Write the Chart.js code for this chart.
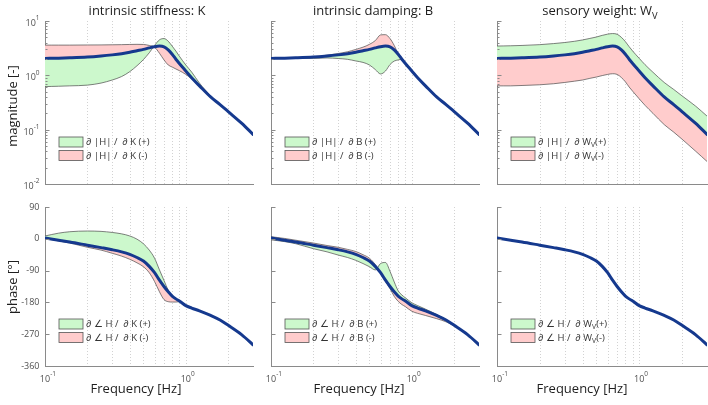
<!DOCTYPE html>
<html><head><meta charset="utf-8">
<script src="https://cdn.jsdelivr.net/npm/chart.js@4.4.0/dist/chart.umd.min.js"></script>
<style>
html,body{margin:0;padding:0;background:#fff;}
#wrap{position:relative;width:708px;height:405px;overflow:hidden;}
canvas{position:absolute;left:0;top:0;}
</style></head><body>
<div id="wrap">
<canvas id="c0" width="708" height="405"></canvas>
<canvas id="c1" width="708" height="405"></canvas>
<canvas id="c2" width="708" height="405"></canvas>
<canvas id="c3" width="708" height="405"></canvas>
<canvas id="c4" width="708" height="405"></canvas>
<canvas id="c5" width="708" height="405"></canvas>
</div>
<script>
// ---------------- data ----------------
const FREQ = [0.1, 0.125, 0.15, 0.2, 0.25, 0.3, 0.35, 0.4, 0.45, 0.5, 0.55, 0.6, 0.65, 0.7, 0.75, 0.8, 0.85, 0.9, 1.0, 1.1, 1.25, 1.5, 1.75, 2.0, 2.5, 3.0];

const MAG_NOMINAL = [2.05, 2.07, 2.1, 2.17, 2.27, 2.38, 2.5, 2.65, 2.83, 3.0, 3.2, 3.37, 3.45, 3.35, 2.95, 2.45, 1.98, 1.65, 1.2, 0.9, 0.64, 0.4, 0.29, 0.215, 0.13, 0.082];
const MAG_K_PLUS  = [0.62, 0.63, 0.64, 0.66, 0.72, 0.82, 0.95, 1.17, 1.5, 1.95, 2.6, 3.55, 4.5, 4.75, 4.25, 3.45, 2.8, 2.25, 1.55, 1.15, 0.72, 0.42, 0.29, 0.215, 0.13, 0.082];
const MAG_K_MINUS = [3.6, 3.6, 3.6, 3.62, 3.63, 3.65, 3.67, 3.7, 3.72, 3.7, 3.55, 3.3, 2.55, 1.92, 1.55, 1.42, 1.31, 1.22, 1.04, 0.86, 0.62, 0.4, 0.29, 0.215, 0.13, 0.082];
const MAG_B_PLUS  = [2.04, 2.05, 2.06, 2.05, 2.09, 2.04, 1.97, 1.84, 1.73, 1.55, 1.28, 1.06, 1.2, 1.58, 1.83, 1.92, 1.98, 1.65, 1.2, 0.9, 0.64, 0.4, 0.29, 0.215, 0.13, 0.082];
const MAG_B_MINUS = [2.05, 2.07, 2.11, 2.2, 2.35, 2.52, 2.72, 3.0, 3.3, 3.72, 4.35, 5.55, 5.6, 4.75, 3.55, 2.5, 1.98, 1.65, 1.2, 0.9, 0.64, 0.4, 0.29, 0.215, 0.13, 0.082];
const MAG_W_PLUS  = [3.46, 3.5, 3.55, 3.67, 3.84, 4.02, 4.23, 4.48, 4.78, 5.07, 5.44, 5.73, 5.87, 5.7, 5.0, 4.17, 3.37, 2.8, 2.06, 1.57, 1.14, 0.74, 0.55, 0.42, 0.27, 0.178];
const MAG_W_MINUS = [0.64, 0.64, 0.65, 0.67, 0.7, 0.74, 0.78, 0.82, 0.88, 0.93, 0.99, 1.04, 1.07, 1.04, 0.91, 0.76, 0.61, 0.51, 0.37, 0.28, 0.2, 0.124, 0.09, 0.067, 0.04, 0.026];

const PHASE_NOMINAL = [2, -4, -9, -18, -25, -31, -37, -44, -53, -63, -78, -96, -117, -135, -150, -162, -170, -176, -189, -196, -204, -217, -230, -245, -272, -300];
const PHASE_K_PLUS  = [8, 16, 20, 22, 21, 18, 14, 8, -1, -14, -32, -55, -88, -118, -145, -162, -170, -176, -189, -196, -204, -217, -230, -245, -272, -300];
const PHASE_K_MINUS = [1, -6, -12, -24, -32, -41, -49, -58, -68, -79, -96, -121, -150, -172, -178, -179, -179, -178, -189, -196, -204, -217, -230, -245, -272, -300];
const PHASE_B_PLUS  = [-3, -8, -14, -28, -37, -46, -53, -61, -70, -79, -88, -70, -67, -92, -122, -147, -159, -167, -181, -189, -199, -214, -229, -245, -272, -300];
const PHASE_B_MINUS = [6, 1, -4, -12, -19, -24, -30, -36, -45, -55, -73, -98, -120, -141, -163, -177, -186, -192, -205, -211, -217, -226, -235, -247, -272, -300];

const MAG_TICKS = [0.01, 0.1, 1, 10];
const MAG_TICK_EXP = ['-2', '-1', '0', '1'];
const PHASE_TICKS = [90, 0, -90, -180, -270, -360];
const PHASE_TICK_LABELS = ['90', '0', '-90', '-180', '-270', '-360'];
const X_TICKS = [0.1, 1];
const X_TICK_EXP = ['-1', '0'];
const X_GRID = [0.2, 0.3, 0.4, 0.5, 0.6, 0.7, 0.8, 0.9, 1, 2];

const TITLES = [
  [{t: 'intrinsic stiffness: K'}],
  [{t: 'intrinsic damping: B'}],
  [{t: 'sensory weight: W'}, {t: 'V', sub: true}]
];
const LEG_MAG = [
  [[{t: '\u2202 |H| /  \u2202 K (+)'}], [{t: '\u2202 |H| /  \u2202 K (-)'}]],
  [[{t: '\u2202 |H| /  \u2202 B (+)'}], [{t: '\u2202 |H| /  \u2202 B (-)'}]],
  [[{t: '\u2202 |H| /  \u2202 W'}, {t: 'V', sub: true}, {t: '(+)'}], [{t: '\u2202 |H| /  \u2202 W'}, {t: 'V', sub: true}, {t: '(-)'}]]
];
const LEG_PHASE = [
  [[{t: '\u2202 \u2220 H /  \u2202 K (+)'}], [{t: '\u2202 \u2220 H /  \u2202 K (-)'}]],
  [[{t: '\u2202 \u2220 H /  \u2202 B (+)'}], [{t: '\u2202 \u2220 H /  \u2202 B (-)'}]],
  [[{t: '\u2202 \u2220 H /  \u2202 W'}, {t: 'V', sub: true}, {t: '(+)'}], [{t: '\u2202 \u2220 H /  \u2202 W'}, {t: 'V', sub: true}, {t: '(-)'}]]
];
const Y_LABELS = ['magnitude [-]', 'phase [\u00B0]'];
const X_LABEL = 'Frequency [Hz]';

// ---------------- style / layout ----------------
const COLS = [{x0: 45, x1: 253, xl: 136}, {x0: 271, x1: 479, xl: 359}, {x0: 497, x1: 707, xl: 582}];
const ROWS = [{y0: 21, y1: 184, yc: 106}, {y0: 207, y1: 366, yc: 287}];
const GREEN = '#ccf8cc', PINK = '#ffcccc', EDGE = '#4a4a4a', BLUE = '#15398e', AXIS = '#8a8a8a';
const FONT = '"Open Sans", "Noto Sans", sans-serif';

function richWidth(ctx, segs, size) {
  let w = 0;
  segs.forEach(s => { ctx.font = (s.sub || s.sup ? size * 0.72 : size) + 'px ' + FONT; w += ctx.measureText(s.t).width; });
  return w;
}
function drawRich(ctx, segs, x, y, size, align) {
  const w = richWidth(ctx, segs, size);
  let cx = align === 'center' ? x - w / 2 : (align === 'right' ? x - w : x);
  ctx.textAlign = 'left';
  segs.forEach(s => {
    const sz = s.sub || s.sup ? size * 0.72 : size;
    ctx.font = sz + 'px ' + FONT;
    const dy = s.sub ? size * 0.3 : (s.sup ? -size * 0.45 : 0);
    ctx.fillText(s.t, cx, y + dy);
    cx += ctx.measureText(s.t).width;
  });
}

const deco = {
  id: 'deco',
  beforeDatasetsDraw(chart) {
    const {ctx, chartArea: a, scales: {x}} = chart;
    ctx.save();
    ctx.strokeStyle = '#d2d2d2'; ctx.lineWidth = 1; ctx.setLineDash([1, 2]);
    X_GRID.forEach(v => {
      const px = Math.round(x.getPixelForValue(v)) + 0.5;
      ctx.beginPath(); ctx.moveTo(px, a.top); ctx.lineTo(px, a.bottom); ctx.stroke();
    });
    ctx.restore();
  },
  afterDraw(chart, args, o) {
    const {ctx, chartArea: a, scales: {x, y}} = chart;
    ctx.save();
    ctx.strokeStyle = AXIS; ctx.lineWidth = 1;
    const ax = Math.round(a.left) + 0.5;
    if (o.row === 0) {
      MAG_TICKS.forEach((v, i) => {
        const py = Math.round(y.getPixelForValue(v)) + 0.5;
        ctx.beginPath(); ctx.moveTo(ax, py); ctx.lineTo(ax + 4, py); ctx.stroke();
        if (i < MAG_TICKS.length - 1) {
          for (let m = 2; m <= 9; m++) {
            const pm = Math.round(y.getPixelForValue(v * m)) + 0.5;
            ctx.beginPath(); ctx.moveTo(ax, pm); ctx.lineTo(ax + 2, pm); ctx.stroke();
          }
        }
      });
    } else {
      PHASE_TICKS.forEach(v => {
        const py = Math.round(y.getPixelForValue(v)) + 0.5;
        ctx.beginPath(); ctx.moveTo(ax, py); ctx.lineTo(ax + 4, py); ctx.stroke();
      });
    }
    ctx.fillStyle = '#505050';
    ctx.textBaseline = 'middle';
    if (o.col === 0) {
      if (o.row === 0) {
        MAG_TICKS.forEach((v, i) => {
          const py = y.getPixelForValue(v);
          ctx.font = '6.5px ' + FONT;
          const ew = ctx.measureText(MAG_TICK_EXP[i]).width;
          ctx.textAlign = 'left';
          ctx.fillText(MAG_TICK_EXP[i], 39.5 - ew, py - 2.5);
          ctx.font = '9px ' + FONT;
          ctx.textAlign = 'right';
          ctx.fillText('10', 39.5 - ew, py + 2.5);
        });
      } else {
        ctx.font = '9px ' + FONT; ctx.textAlign = 'right';
        PHASE_TICKS.forEach((v, i) => ctx.fillText(PHASE_TICK_LABELS[i], 39.5, y.getPixelForValue(v)));
      }
      ctx.save();
      ctx.fillStyle = '#1e1e1e';
      ctx.translate(13, ROWS[o.row].yc);
      ctx.rotate(-Math.PI / 2);
      ctx.font = '13px ' + FONT; ctx.textAlign = 'center'; ctx.textBaseline = 'middle';
      ctx.fillText(Y_LABELS[o.row], 0, 0);
      ctx.restore();
    }
    if (o.row === 1) {
      X_TICKS.forEach((v, i) => {
        const px = x.getPixelForValue(v);
        ctx.font = '9px ' + FONT; ctx.textAlign = 'center'; ctx.fillStyle = '#505050';
        ctx.fillText('10', px, 379);
        const w = ctx.measureText('10').width;
        ctx.font = '6.5px ' + FONT; ctx.textAlign = 'left';
        ctx.fillText(X_TICK_EXP[i], px + w / 2, 374.5);
      });
      ctx.fillStyle = '#1e1e1e'; ctx.textBaseline = 'middle';
      ctx.font = '13px ' + FONT; ctx.textAlign = 'center';
      ctx.fillText(X_LABEL, COLS[o.col].xl, 389);
    }
    if (o.row === 0) {
      ctx.fillStyle = '#1e1e1e'; ctx.textBaseline = 'alphabetic';
      drawRich(ctx, TITLES[o.col], (a.left + a.right) / 2 - 2, 15, 13, 'center');
    }
    const leg = o.row === 0 ? LEG_MAG[o.col] : LEG_PHASE[o.col];
    const lx = a.left + 14;
    [[GREEN, a.bottom - 47], [PINK, a.bottom - 33.5]].forEach(([col, top], i) => {
      ctx.fillStyle = col;
      ctx.fillRect(lx, top, 24, 10);
      ctx.strokeStyle = '#555'; ctx.lineWidth = 0.8;
      ctx.strokeRect(lx, top, 24, 10);
      ctx.fillStyle = '#333'; ctx.textBaseline = 'middle';
      drawRich(ctx, leg[i], lx + 27, top + 5.5, 9.5, 'left');
    });
    ctx.restore();
  }
};

function pts(arr) { return FREQ.map((f, i) => ({x: f, y: arr[i]})); }

const PANELS = [
  {row: 0, col: 0, nom: MAG_NOMINAL, plus: MAG_K_PLUS, minus: MAG_K_MINUS},
  {row: 0, col: 1, nom: MAG_NOMINAL, plus: MAG_B_PLUS, minus: MAG_B_MINUS},
  {row: 0, col: 2, nom: MAG_NOMINAL, plus: MAG_W_PLUS, minus: MAG_W_MINUS},
  {row: 1, col: 0, nom: PHASE_NOMINAL, plus: PHASE_K_PLUS, minus: PHASE_K_MINUS},
  {row: 1, col: 1, nom: PHASE_NOMINAL, plus: PHASE_B_PLUS, minus: PHASE_B_MINUS},
  {row: 1, col: 2, nom: PHASE_NOMINAL, plus: null, minus: null}
];

PANELS.forEach((p, k) => {
  const c = COLS[p.col], r = ROWS[p.row];
  const ds = [];
  if (p.plus) {
    ds.push({data: pts(p.plus), fill: 2, backgroundColor: GREEN, borderColor: EDGE, borderWidth: 0.7, order: 1});
    ds.push({data: pts(p.minus), fill: 2, backgroundColor: PINK, borderColor: EDGE, borderWidth: 0.7, order: 1});
  }
  ds.push({data: pts(p.nom), fill: false, borderColor: BLUE, borderWidth: 3, order: 0});
  const yScale = p.row === 0
    ? {type: 'logarithmic', min: 0.01, max: 10}
    : {type: 'linear', min: -360, max: 90};
  Object.assign(yScale, {
    ticks: {display: false}, grid: {display: false, drawTicks: false},
    border: {display: true, color: AXIS, width: 1},
    afterFit: s => { s.width = 0; }
  });
  new Chart(document.getElementById('c' + k), {
    type: 'line',
    data: {datasets: ds},
    options: {
      responsive: false, animation: false, devicePixelRatio: 1, events: [],
      layout: {padding: {left: c.x0, right: 708 - c.x1, top: r.y0, bottom: 405 - r.y1}},
      plugins: {legend: {display: false}, tooltip: {enabled: false}, deco: {row: p.row, col: p.col}},
      elements: {point: {radius: 0}, line: {cubicInterpolationMode: 'monotone', borderCapStyle: 'round'}},
      scales: {
        x: {type: 'logarithmic', min: 0.1, max: 3, ticks: {display: false},
            grid: {display: false, drawTicks: false},
            border: {display: true, color: AXIS, width: 1},
            afterFit: s => { s.height = 0; }},
        y: yScale
      }
    },
    plugins: [deco]
  });
});
</script>
</body></html>
